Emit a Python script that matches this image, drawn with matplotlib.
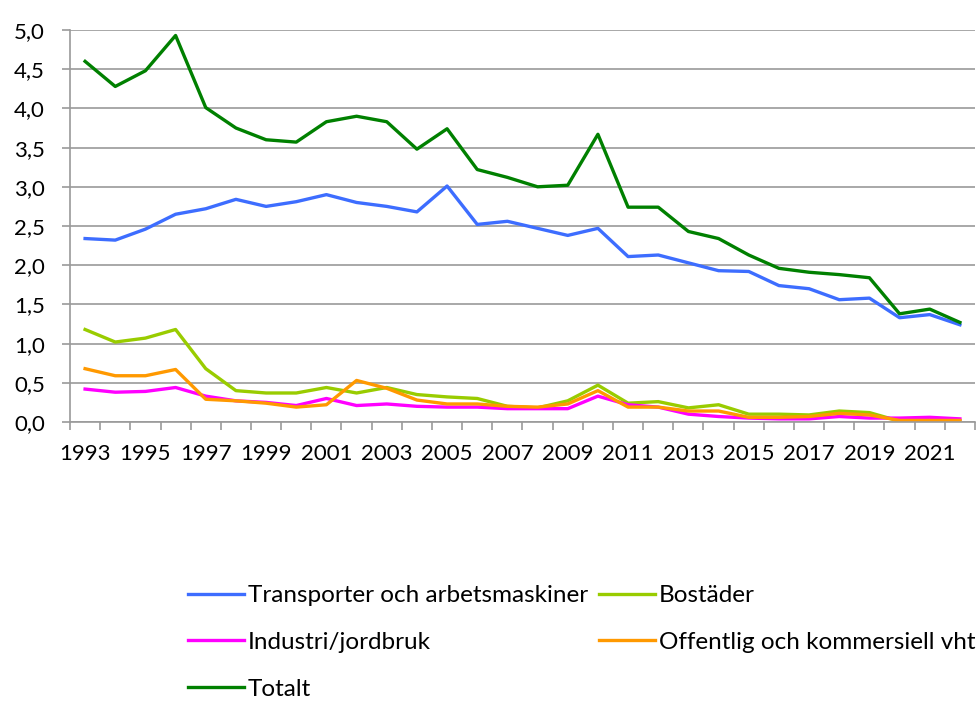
import numpy as np
import matplotlib
matplotlib.use("Agg")
import matplotlib.pyplot as plt
from matplotlib.ticker import FuncFormatter

# ==========================
# Data
# ==========================

years = list(range(1993, 2023))

transport = [2.34, 2.32, 2.46, 2.65, 2.72, 2.84, 2.75, 2.81, 2.90, 2.80,
             2.75, 2.68, 3.01, 2.52, 2.56, 2.47, 2.38, 2.47, 2.11, 2.13,
             2.03, 1.93, 1.92, 1.74, 1.70, 1.56, 1.58, 1.33, 1.37, 1.24]

bostader = [1.18, 1.02, 1.07, 1.18, 0.68, 0.40, 0.37, 0.37, 0.44, 0.37,
            0.44, 0.35, 0.32, 0.30, 0.20, 0.18, 0.27, 0.47, 0.24, 0.26,
            0.18, 0.22, 0.10, 0.10, 0.09, 0.14, 0.12, 0.01, 0.01, 0.01]

industri = [0.42, 0.38, 0.39, 0.44, 0.33, 0.27, 0.25, 0.21, 0.30, 0.21,
            0.23, 0.20, 0.19, 0.19, 0.17, 0.17, 0.17, 0.33, 0.22, 0.19,
            0.10, 0.07, 0.05, 0.04, 0.04, 0.07, 0.05, 0.05, 0.06, 0.04]

offentlig = [0.68, 0.59, 0.59, 0.67, 0.29, 0.27, 0.24, 0.19, 0.22, 0.53,
             0.43, 0.28, 0.23, 0.23, 0.20, 0.19, 0.23, 0.40, 0.19, 0.19,
             0.14, 0.14, 0.06, 0.06, 0.07, 0.11, 0.09, 0.02, 0.02, 0.02]

totalt = [4.60, 4.28, 4.48, 4.93, 4.01, 3.75, 3.60, 3.57, 3.83, 3.90,
          3.83, 3.48, 3.74, 3.22, 3.12, 3.00, 3.02, 3.67, 2.74, 2.74,
          2.43, 2.34, 2.13, 1.96, 1.91, 1.88, 1.84, 1.38, 1.44, 1.27]

# ==========================
# Figure
# ==========================

plt.rcParams["font.family"] = ["Lato", "DejaVu Sans"]

fig = plt.figure(figsize=(9.79, 7.02), dpi=100)
ax = fig.add_axes([70 / 979, 1 - 422 / 702, 905 / 979, 392 / 702])

x = np.arange(len(years))
lw = 2.4

l_tr, = ax.plot(x, transport, color="#3D6DFF", linewidth=lw,
                label="Transporter och arbetsmaskiner")
l_bo, = ax.plot(x, bostader, color="#99CC00", linewidth=lw, label="Bostäder")
l_in, = ax.plot(x, industri, color="#FF00FF", linewidth=lw,
                label="Industri/jordbruk")
l_of, = ax.plot(x, offentlig, color="#FF9900", linewidth=lw,
                label="Offentlig och kommersiell vht")
l_to, = ax.plot(x, totalt, color="#008000", linewidth=lw, label="Totalt")

ax.set_xlim(-0.5, len(years) - 0.5)
ax.set_ylim(0, 5)
ax.set_yticks(np.arange(0, 5.01, 0.5))
ax.yaxis.set_major_formatter(
    FuncFormatter(lambda v, p: f"{v:.1f}".replace(".", ",")))

ax.set_xticks(x[::2])
ax.set_xticklabels([str(y) for y in years[::2]])
ax.set_xticks(np.arange(-0.5, len(years), 1), minor=True)

ax.grid(True, axis="y", color="#9a9a9a", linewidth=1.2)
ax.set_axisbelow(True)

for side in ["top", "right"]:
    ax.spines[side].set_visible(False)
ax.spines["left"].set_color("#9a9a9a")
ax.spines["bottom"].set_color("#9a9a9a")
ax.spines["left"].set_linewidth(1.2)
ax.spines["bottom"].set_linewidth(1.2)

ax.tick_params(axis="x", which="major", length=0, pad=16, labelsize=16)
ax.tick_params(axis="x", which="minor", length=6, color="#9a9a9a", width=1.2)
ax.tick_params(axis="y", length=6, color="#9a9a9a", width=1.2,
               labelsize=16, pad=12)

# ==========================
# Legend
# ==========================

handles = [l_tr, l_in, l_to, l_bo, l_of]
fig.legend(handles, [h.get_label() for h in handles],
           loc="upper left", bbox_to_anchor=(188 / 979, 1 - 585 / 702),
           ncol=2, frameon=False, fontsize=17.5,
           borderpad=0, borderaxespad=0,
           handlelength=2.3, handletextpad=0.16,
           columnspacing=0.45, labelspacing=1.06)

fig.savefig("out.png", dpi=100)
